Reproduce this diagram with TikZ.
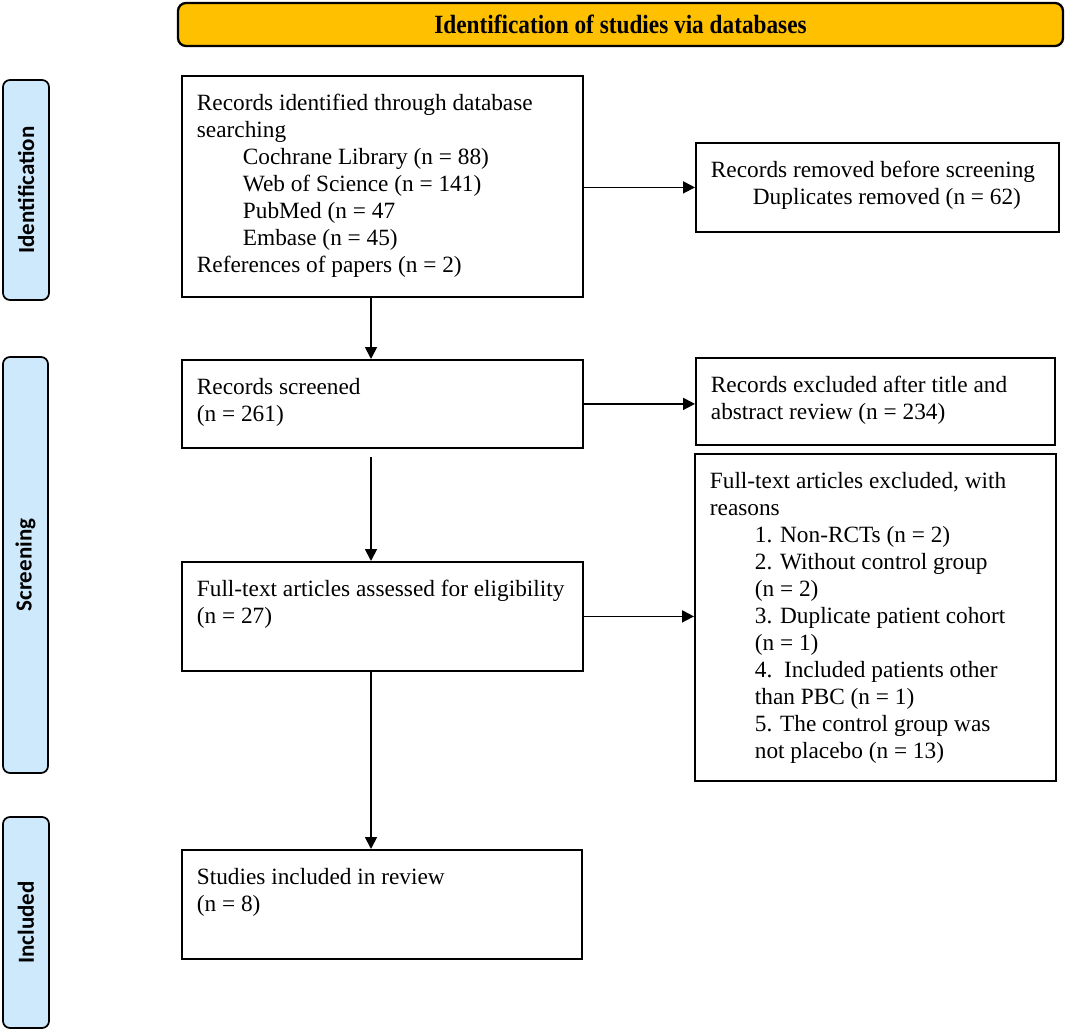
\documentclass[tikz,border=0pt]{standalone}
\usepackage{fontspec}
\setmainfont{Liberation Serif}
\newfontfamily\labfont{Carlito}
\usetikzlibrary{arrows.meta,calc}
\definecolor{hdrc}{HTML}{FFC000}
\definecolor{sidec}{HTML}{CFE9FC}
\newcommand\bx[3]{\parbox[c][#2][t]{#1}{\fontsize{23.3}{27}\selectfont\parindent=0pt\leftskip=15pt\rightskip=0pt plus 1fil\vspace*{15.6pt}\strut#3}}
\newcommand\ind[1]{\hspace*{#1pt}}
\begin{document}
\begin{tikzpicture}[x=1pt,y=-1pt,
  box/.style={draw, line width=1.8pt, anchor=north west, inner sep=0pt},
  arr/.style={line width=1.8pt, -{Triangle[length=12pt,width=12pt]}},
  sidebox/.style={draw, line width=1.7pt, fill=sidec, rounded corners=7pt, rotate=90, inner sep=0pt, font=\labfont\fontsize{23}{26}\selectfont\bfseries}]
\useasboundingbox (0,0) rectangle (1065,1030);
% header
\node[draw, line width=2.3pt, fill=hdrc, rounded corners=8pt, minimum width=885pt, minimum height=43pt, inner sep=0pt,
  font=\fontsize{23.5}{27}\selectfont\bfseries] (hd) at (620.5,24.5) {\scalebox{0.99}[1.12]{Identification of studies via databases}};
% side labels
\node[sidebox, minimum width=220pt, minimum height=46pt] (sid) at (26,190) {Identification};
\node[sidebox, minimum width=416pt, minimum height=45pt] (sscr) at (25.5,565) {Screening};
\node[sidebox, minimum width=211pt, minimum height=46pt] (sinc) at (26,922.5) {Included};
% boxes
\node[box] (b1) at (181,75) {\bx{401pt}{221pt}{Records identified through database\\searching\\\ind{46}Cochrane Library (n = 88)\\\ind{46}Web of Science (n = 141)\\\ind{46}PubMed (n = 47\\\ind{46}Embase (n = 45)\\References of papers (n = 2)}};
\node[box] (rm) at (695,142) {\bx{363pt}{89pt}{Records removed before screening\\\ind{42}Duplicates removed (n = 62)}};
\node[box] (scr) at (181,359) {\bx{401pt}{88pt}{Records screened\\(n = 261)}};
\node[box] (ex1) at (695,357) {\bx{359pt}{87pt}{Records excluded after title and\\abstract review (n = 234)}};
\node[box] (ft) at (181,561) {\bx{401pt}{109pt}{Full-text articles assessed for eligibility\\(n = 27)}};
\node[box] (fte) at (694,453) {\bx{361pt}{327pt}{Full-text articles excluded, with\\reasons\\\ind{45}1. Non-RCTs (n = 2)\\\ind{45}2. Without control group\\\ind{45}(n = 2)\\\ind{45}3. Duplicate patient cohort\\\ind{45}(n = 1)\\\ind{45}4.\ \ Included patients other\\\ind{45}than PBC (n = 1)\\\ind{45}5. The control group was\\\ind{45}not placebo (n = 13)}};
\node[box] (inc) at (181,849) {\bx{400pt}{109pt}{Studies included in review\\(n = 8)}};
% arrows
\coordinate (ax) at (371,0);
\draw[arr] (ax |- b1.south) -- (ax |- scr.north);
\draw[arr] ($(ax |- scr.south)+(0,8)$) -- (ax |- ft.north);
\draw[arr] (ax |- ft.south) -- (ax |- inc.north);
\draw[arr] (b1.east |- rm.west) -- (rm.west);
\draw[arr] (scr.east) -- (scr.east -| ex1.west);
\draw[arr] (ft.east) -- (ft.east -| fte.west);
\end{tikzpicture}
\end{document}
